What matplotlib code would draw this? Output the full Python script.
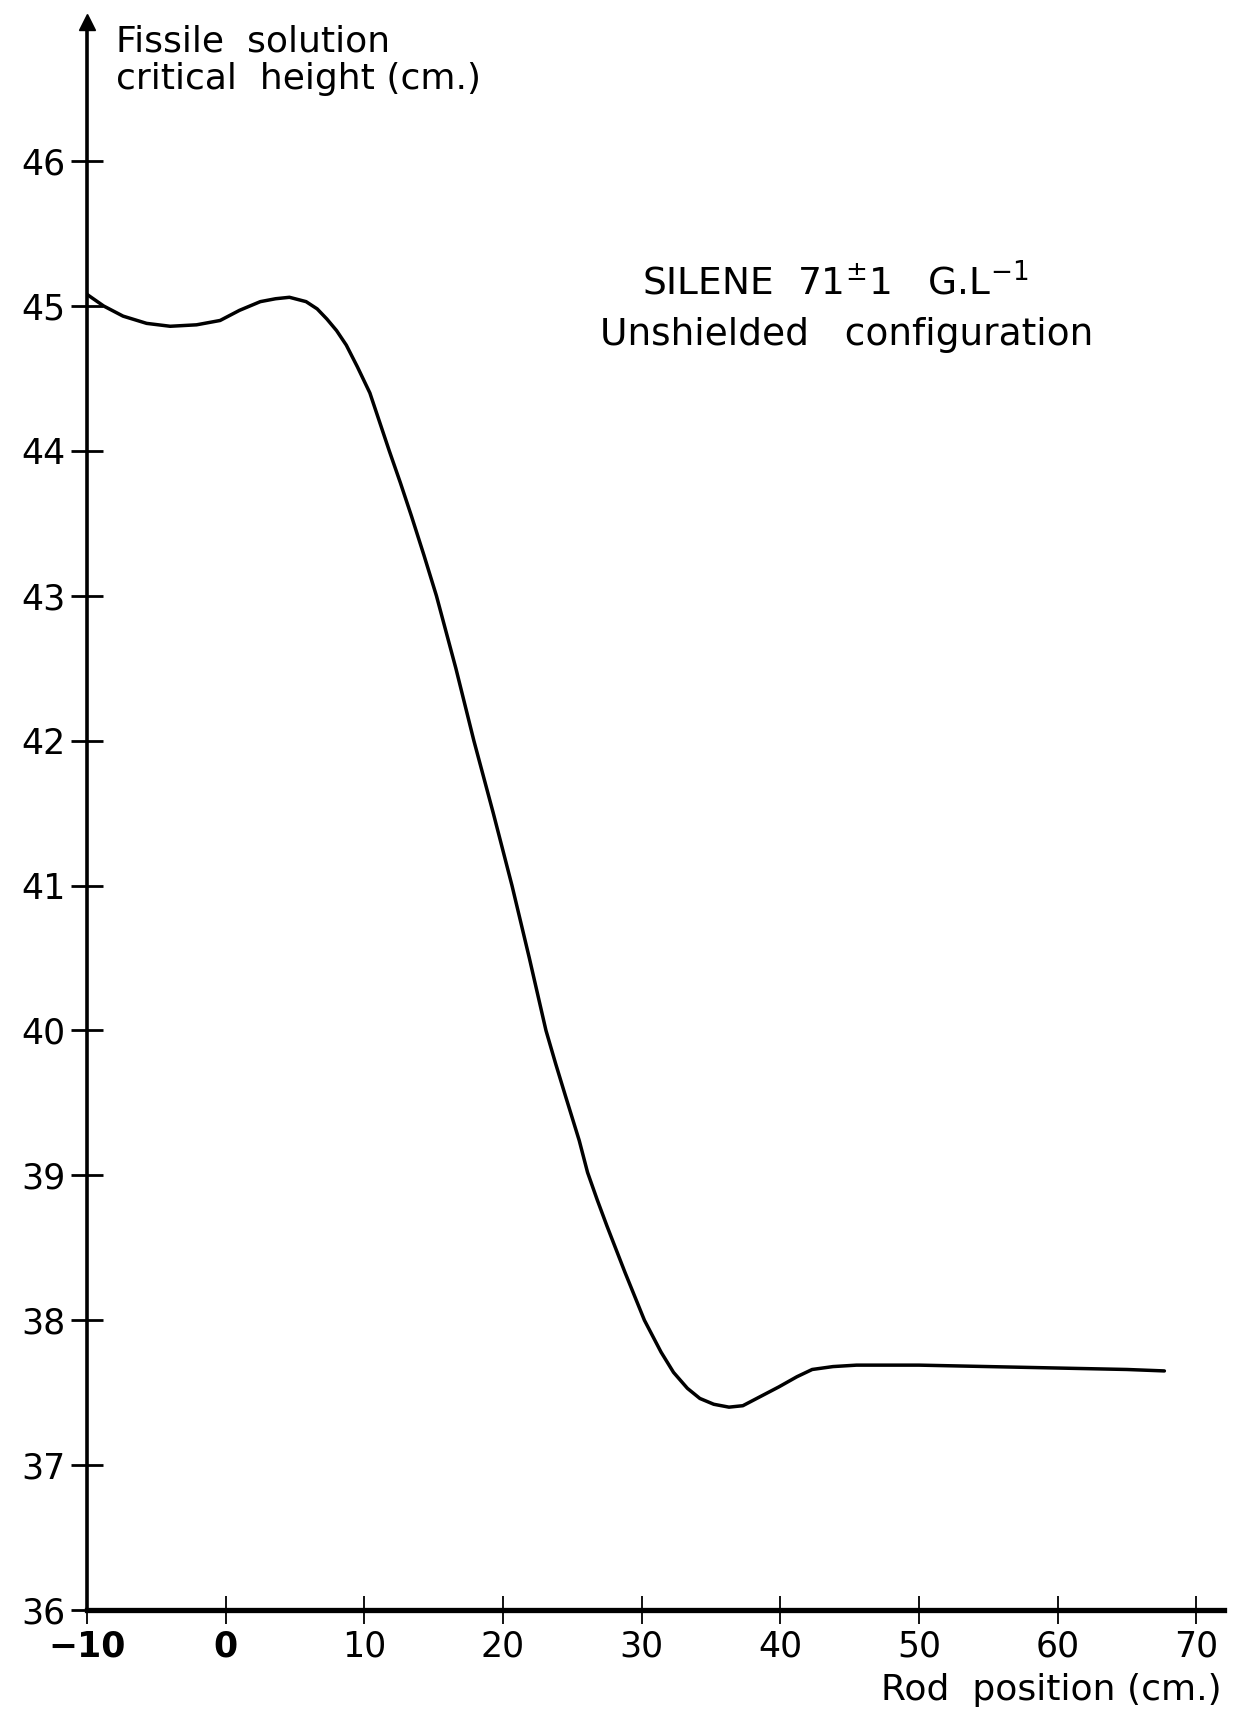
import numpy as np
import matplotlib
matplotlib.use("Agg")
import matplotlib.pyplot as plt

# Critical height vs rod position
rod_pos = [-10.0, -8.8, -7.4, -5.7, -4.0, -2.1, -0.4, 1.0, 2.5, 3.6, 4.6, 5.8,
           6.6, 7.3, 8.0, 8.7, 9.5, 10.4, 11.1, 11.8, 12.6, 13.4, 14.3, 15.2,
           16.6, 17.9, 19.3, 20.65, 21.9, 22.5, 23.1, 23.8, 24.5, 25.5, 26.1,
           26.8, 27.5, 28.8, 30.2, 31.4, 32.3, 33.3, 34.2, 35.2, 36.3, 37.3,
           38.3, 39.9, 41.2, 42.3, 43.8, 45.5, 50.0, 55.0, 60.0, 65.0, 67.7]
crit_height = [45.08, 45.00, 44.93, 44.88, 44.86, 44.87, 44.90, 44.97, 45.03,
               45.05, 45.06, 45.03, 44.98, 44.91, 44.83, 44.73, 44.58, 44.40,
               44.20, 44.00, 43.78, 43.55, 43.28, 43.00, 42.50, 42.00, 41.50,
               41.00, 40.50, 40.25, 40.00, 39.77, 39.55, 39.24, 39.02, 38.83,
               38.65, 38.33, 38.00, 37.78, 37.64, 37.53, 37.46, 37.42, 37.40,
               37.41, 37.46, 37.54, 37.61, 37.66, 37.68, 37.69, 37.69, 37.68,
               37.67, 37.66, 37.65]

xticks = [-10, 0, 10, 20, 30, 40, 50, 60, 70]
yticks = [36, 37, 38, 39, 40, 41, 42, 43, 44, 45, 46]

fig = plt.figure(figsize=(12.59, 17.14), dpi=100)
ax = fig.add_axes([87/1259, 1 - 1610/1714, (1224-87)/1259, (1610-22)/1714])

ax.plot(rod_pos, crit_height, color="black", lw=2.5,
        solid_capstyle="round", solid_joinstyle="round")

ax.set_xlim(-10, 72)
ax.set_ylim(36, 46.96)

for s in ["top", "right"]:
    ax.spines[s].set_visible(False)
ax.spines["left"].set_linewidth(2.6)
ax.spines["bottom"].set_linewidth(3.8)

ax.set_xticks(xticks)
ax.set_yticks(yticks)
ax.set_xticklabels([str(v).replace("-", "\u2212") for v in xticks])
ax.tick_params(axis="y", direction="inout", length=23, width=2.0,
               labelsize=25, pad=4)
ax.tick_params(axis="x", direction="inout", length=20, width=1.3,
               labelsize=25, pad=4)
for lab in ax.get_xticklabels()[:2]:
    lab.set_fontweight("bold")

# arrow head on the y axis
ax.plot(0, 1, marker="^", color="black", markersize=11,
        transform=ax.transAxes, clip_on=False)

fig.text(116/1259, 1 - 24/1714, "Fissile  solution\ncritical  height (cm.)",
         fontsize=26, va="top", ha="left", linespacing=1.15)
fig.text(1222/1259, 1 - 1690/1714, "Rod  position (cm.)",
         fontsize=26, va="center", ha="right")

ax.text(835/1259, 1 - 282/1714, r"SILENE  71$^{\pm}$1   G.L$^{-1}$",
        transform=fig.transFigure, fontsize=27, ha="center", va="center")
ax.text(847/1259, 1 - 335/1714, "Unshielded   configuration",
        transform=fig.transFigure, fontsize=27, ha="center", va="center")

plt.savefig("out.png", dpi=100)
